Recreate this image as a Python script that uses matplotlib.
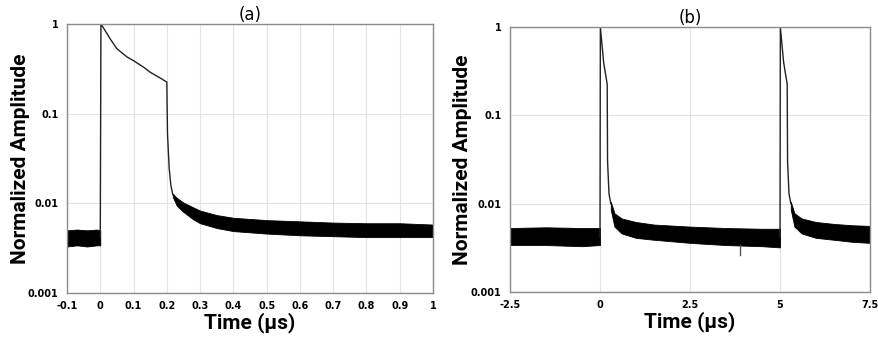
import matplotlib
matplotlib.use('Agg')
import matplotlib.pyplot as plt
from matplotlib.ticker import FixedLocator, NullLocator

# ---- panel (a): single pulse, time in us ----
a_base_t = [-0.1, -0.07, -0.04, -0.01, 0.0]
a_base_hi = [0.0050, 0.0051, 0.0050, 0.0051, 0.0050]
a_base_lo = [0.0033, 0.0034, 0.0033, 0.0034, 0.0034]

a_pulse_t = [0.0, 0.002, 0.01, 0.03, 0.05, 0.08, 0.1, 0.13, 0.15, 0.18, 0.2, 0.202, 0.207, 0.212, 0.218]
a_pulse_v = [0.0042, 1.0, 0.90, 0.68, 0.53, 0.43, 0.39, 0.33, 0.29, 0.25, 0.225, 0.06, 0.025, 0.016, 0.0125]

a_tail_t = [0.218, 0.23, 0.25, 0.28, 0.3, 0.35, 0.4, 0.5, 0.6, 0.7, 0.8, 0.9, 1.0]
a_tail_hi = [0.0128, 0.0115, 0.0102, 0.0090, 0.0083, 0.0074, 0.0069, 0.0065, 0.0063, 0.0061, 0.0060, 0.0060, 0.0058]
a_tail_lo = [0.0118, 0.0094, 0.0080, 0.0066, 0.0060, 0.0053, 0.0049, 0.0046, 0.0044, 0.0043, 0.0042, 0.0042, 0.0042]

# ---- panel (b): two pulses, 5 us apart ----
b_base_t = [-2.5, -1.5, -0.5, 0.0]
b_base_hi = [0.0053, 0.0054, 0.0053, 0.0053]
b_base_lo = [0.0034, 0.0034, 0.0033, 0.0034]

b_pulse1_t = [0.0, 0.01, 0.1, 0.2, 0.21, 0.25, 0.3]
b_pulse1_v = [0.0042, 1.0, 0.40, 0.225, 0.03, 0.013, 0.010]

b_tail1_t = [0.3, 0.4, 0.6, 1.0, 1.5, 2.5, 3.5, 4.5, 5.0]
b_tail1_hi = [0.0105, 0.0078, 0.0068, 0.0062, 0.0058, 0.0055, 0.0053, 0.0052, 0.0052]
b_tail1_lo = [0.0085, 0.0055, 0.0046, 0.0041, 0.0039, 0.0036, 0.0034, 0.0033, 0.0032]

b_pulse2_t = [5.0, 5.01, 5.1, 5.2, 5.21, 5.25, 5.3]
b_pulse2_v = [0.0042, 1.0, 0.40, 0.225, 0.03, 0.013, 0.010]

b_tail2_t = [5.3, 5.4, 5.6, 6.0, 6.5, 7.0, 7.5]
b_tail2_hi = [0.0105, 0.0078, 0.0068, 0.0062, 0.0059, 0.0057, 0.0056]
b_tail2_lo = [0.0085, 0.0055, 0.0046, 0.0041, 0.0039, 0.0037, 0.0036]

# odd downward spike in (b)
b_spike_t = [3.9, 3.9]
b_spike_v = [0.0034, 0.0026]

plt.rcParams['font.family'] = ['DejaVu Sans']
GRID = '#e3e3e3'
SPINE = '#8c8c8c'
LABEL_FONT = ['Roboto', 'DejaVu Sans']

fig = plt.figure(figsize=(8.79, 3.39), dpi=100)
ax1 = fig.add_axes([67 / 879, 1 - 293 / 339, 366 / 879, 269 / 339])
ax2 = fig.add_axes([510 / 879, 1 - 292 / 339, 360 / 879, 265 / 339])


def style_axes(ax, xticks, xlabels, xlim, title):
    ax.set_yscale('log')
    ax.set_ylim(0.001, 1)
    ax.set_xlim(*xlim)
    ax.yaxis.set_major_locator(FixedLocator([0.001, 0.01, 0.1, 1]))
    ax.yaxis.set_minor_locator(NullLocator())
    ax.set_yticklabels(['0.001', '0.01', '0.1', '1'])
    ax.set_xticks(xticks)
    ax.set_xticklabels(xlabels)
    ax.tick_params(length=0, labelsize=7, pad=6)
    for lab in ax.get_xticklabels() + ax.get_yticklabels():
        lab.set_fontweight('bold')
    ax.grid(True, color=GRID, lw=0.8)
    ax.set_axisbelow(True)
    for s in ax.spines.values():
        s.set_color(SPINE)
        s.set_linewidth(1.0)
    ax.set_xlabel('Time (\u03bcs)', fontsize=15, fontweight='bold', labelpad=1,
                  family=LABEL_FONT)
    ax.set_ylabel('Normalized Amplitude', fontsize=15, fontweight='bold',
                  family=LABEL_FONT)
    ax.set_title(title, fontsize=12, pad=3)


# panel (a)
ax1.fill_between(a_base_t, a_base_lo, a_base_hi, color='black', lw=0.6)
ax1.plot(a_pulse_t, a_pulse_v, color='#222222', lw=1.0)
ax1.fill_between(a_tail_t, a_tail_lo, a_tail_hi, color='black', lw=0.6)
style_axes(ax1, [-0.1, 0, 0.1, 0.2, 0.3, 0.4, 0.5, 0.6, 0.7, 0.8, 0.9, 1.0],
           ['-0.1', '0', '0.1', '0.2', '0.3', '0.4', '0.5', '0.6', '0.7', '0.8', '0.9', '1'],
           (-0.1, 1.0), '(a)')
ax1.yaxis.set_label_coords(-37 / 366, 0.5)

# panel (b)
ax2.fill_between(b_base_t, b_base_lo, b_base_hi, color='black', lw=0.6)
ax2.plot(b_pulse1_t, b_pulse1_v, color='#222222', lw=1.0)
ax2.fill_between(b_tail1_t, b_tail1_lo, b_tail1_hi, color='black', lw=0.6)
ax2.plot(b_pulse2_t, b_pulse2_v, color='#222222', lw=1.0)
ax2.fill_between(b_tail2_t, b_tail2_lo, b_tail2_hi, color='black', lw=0.6)
ax2.plot(b_spike_t, b_spike_v, color='#555555', lw=1.0)
style_axes(ax2, [-2.5, 0, 2.5, 5, 7.5], ['-2.5', '0', '2.5', '5', '7.5'],
           (-2.5, 7.5), '(b)')
ax2.yaxis.set_label_coords(-38 / 360, 0.5)

fig.savefig('out.png', dpi=100)
